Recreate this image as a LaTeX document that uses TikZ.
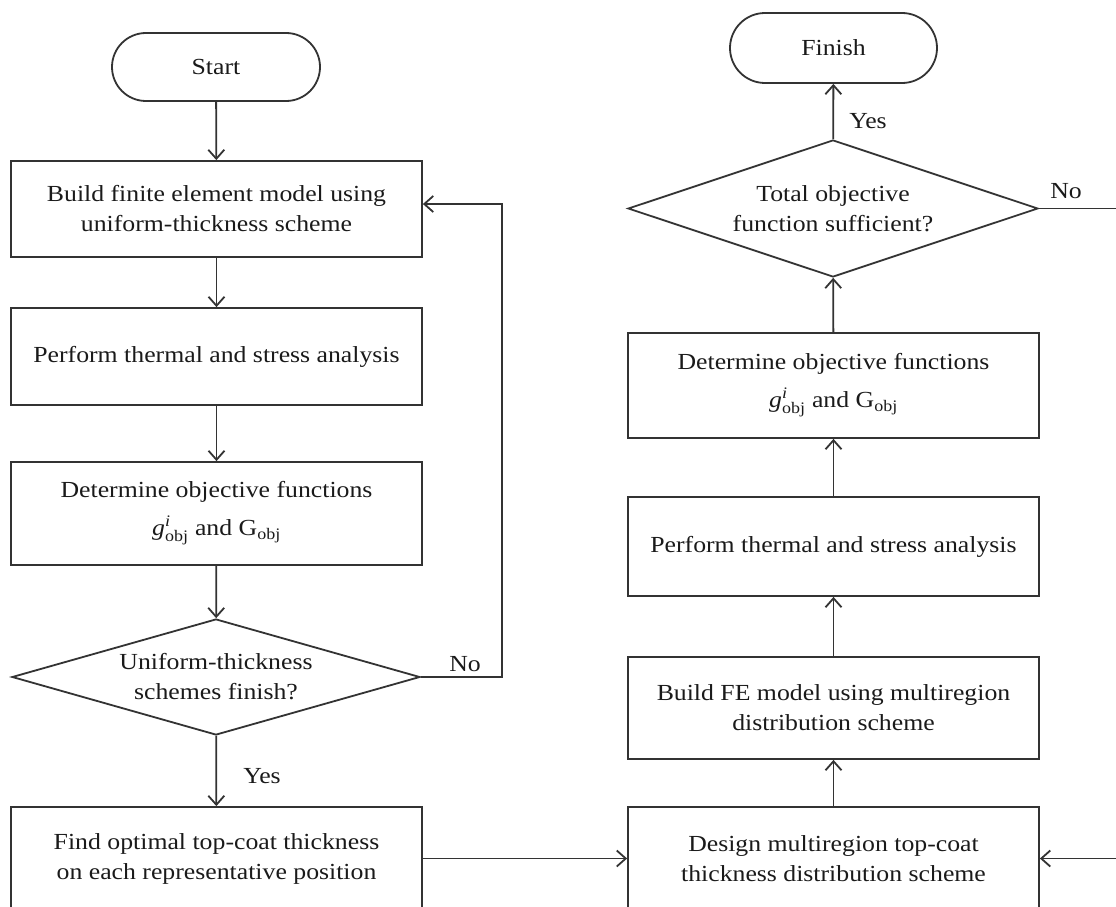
\documentclass[tikz,border=0pt]{standalone}
\usepackage{fontspec}
\usepackage{amsmath}
\setmainfont[FakeStretch=1.12]{Liberation Serif}
\usetikzlibrary{arrows.meta,shapes.geometric}
\definecolor{ln}{HTML}{333333}
\definecolor{tx}{HTML}{1A1A1A}
\tikzset{
  proc/.style={draw=ln, line width=1.8pt, rectangle, minimum width=411pt, align=center, text=tx, inner sep=0pt},
  term/.style={draw=ln, line width=1.8pt, rectangle, rounded corners=34pt, minimum width=208pt, minimum height=68pt, text=tx, inner sep=0pt},
  dec/.style={draw=ln, line width=1.8pt, diamond, inner sep=0pt},
  arr/.style={draw=ln, line width=1.8pt, -{Straight Barb[length=9pt,width=16pt]}},
  plain/.style={draw=ln, line width=1.8pt},
  lbl/.style={text=tx, inner sep=0pt}
}
\begin{document}
\begin{tikzpicture}[x=1pt,y=-1pt,font=\fontsize{23}{30}\selectfont]
\useasboundingbox (0,0) rectangle (1116,907);
\clip (0,0) rectangle (1116,907);
% left column
\node[term] (start) at (216,67) {Start};
\node[proc, minimum height=96pt] (b1) at (216.5,209) {Build finite element model using\\uniform-thickness scheme};
\node[proc, minimum height=97pt] (b2) at (216.5,356.5) {Perform thermal and stress analysis};
\node[proc, minimum height=103pt] (b3) at (216.5,513.5) {Determine objective functions\\[8pt]$\textit{g}^{\textit{i}}_{\text{obj}}$ and G$_{\text{obj}}$};
\node[dec, minimum width=408pt, minimum height=116pt, label={[lbl,align=center]center:{Uniform-thickness\\schemes finish?}}] (d1) at (216,677) {};
\node[proc, minimum height=103pt] (b4) at (216.5,858.5) {Find optimal top-coat thickness\\on each representative position};
% right column
\node[term, minimum width=207pt, minimum height=70pt, rounded corners=35pt] (finish) at (833.5,48) {Finish};
\node[dec, minimum width=410pt, minimum height=137pt, label={[lbl,align=center]center:{Total objective\\function sufficient?}}] (d2) at (833,208.5) {};
\node[proc, minimum height=105pt] (r4) at (833.5,385.5) {Determine objective functions\\[8pt]$\textit{g}^{\textit{i}}_{\text{obj}}$ and G$_{\text{obj}}$};
\node[proc, minimum height=99pt] (r3) at (833.5,546.5) {Perform thermal and stress analysis};
\node[proc, minimum height=102pt] (r2) at (833.5,708) {Build FE model using multiregion\\distribution scheme};
\node[proc, minimum height=103pt] (r1) at (833.5,858.5) {Design multiregion top-coat\\thickness distribution scheme};
% labels
\node[lbl] (no1) at (465,664) {No};
\node[lbl] (yes1) at (262,776) {Yes};
\node[lbl] (yes2) at (868,121) {Yes};
\node[lbl] (no2) at (1066,191) {No};
% coordinates
\coordinate (l1) at (502,677);
\coordinate (l2) at (502,204);
\coordinate (e1) at (1130,208.5);
\coordinate (e2) at (1130,858.5);
% connectors left
\draw[arr] (start) -- (b1);
\draw[arr] (b1) -- (b2);
\draw[arr] (b2) -- (b3);
\draw[arr] (b3) -- (d1);
\draw[arr] (d1) -- (b4);
\draw[arr] (d1.east) -- (l1) -- (l2) -- (b1.east |- l2);
\draw[arr] (b4.east |- r1.west) -- (r1.west);
% connectors right
\draw[arr] (r1) -- (r2);
\draw[arr] (r2) -- (r3);
\draw[arr] (r3) -- (r4);
\draw[arr] (r4) -- (d2);
\draw[arr] (d2) -- (finish);
\draw[plain] (d2.east) -- (e1);
\draw[arr] (e2) -- (r1.east);
\end{tikzpicture}
\end{document}
